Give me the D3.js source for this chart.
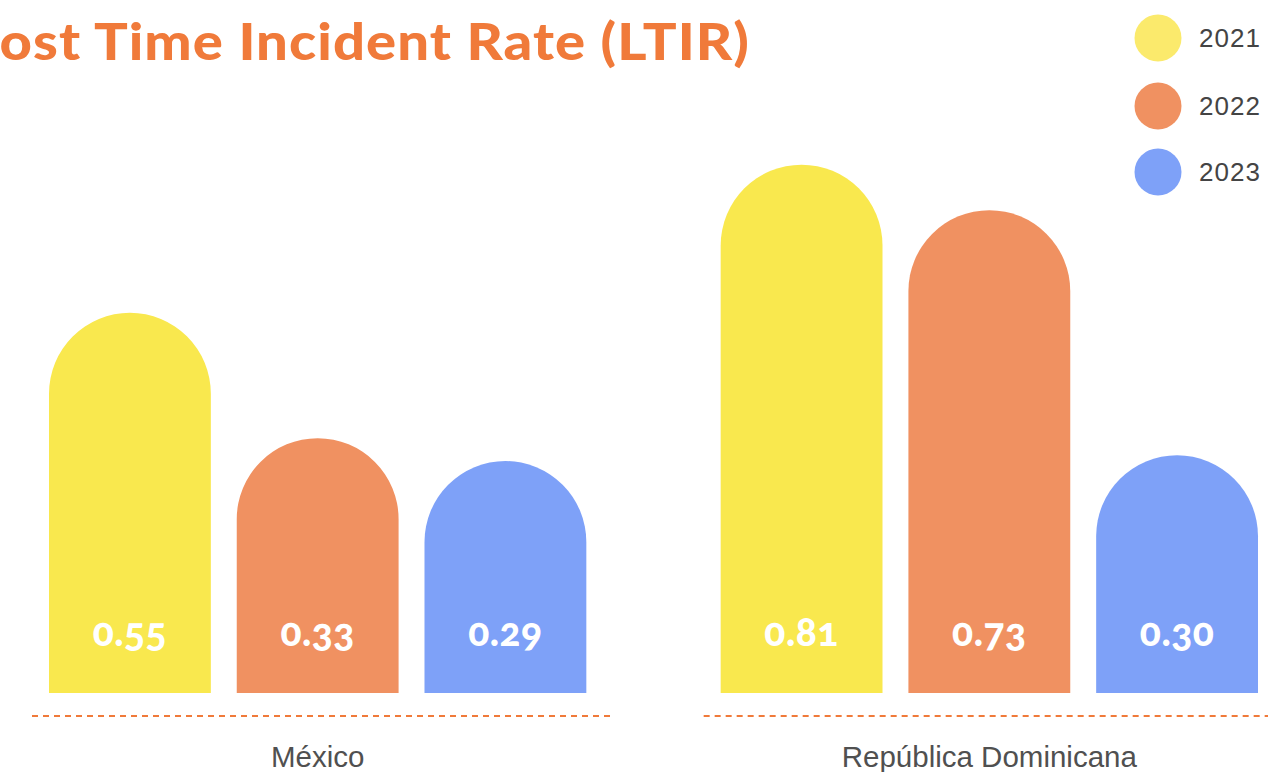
<!DOCTYPE html>
<html>
<head>
<meta charset="utf-8">
<script src="https://cdn.jsdelivr.net/npm/d3@7"></script>
<style>
  html, body { margin: 0; padding: 0; background: #ffffff; overflow: hidden; }
  svg { display: block; }
</style>
</head>
<body>
<svg id="chart" width="1268" height="772"></svg>
<script>
// Lost Time Incident Rate by country and year
const countries = ["México", "República Dominicana"];
const years = ["2021", "2022", "2023"];
const ltir2021 = [0.55, 0.81];
const ltir2022 = [0.33, 0.73];
const ltir2023 = [0.29, 0.30];
const seriesValues = [ltir2021, ltir2022, ltir2023];
const barColors = ["#F9E84E", "#F09161", "#7EA1F8"];
const legendColors = ["#FBEA6C", "#F09161", "#7EA1F8"];
const titleText = "Lost Time Incident Rate (LTIR)";

const W = 1268, H = 772;
const baseline = 693;
const svg = d3.select("#chart");

const x0 = d3.scaleBand().domain(countries).range([49, 1258]).paddingInner(0.2).paddingOuter(0);
const x1 = d3.scaleBand().domain(years).range([0, x0.bandwidth()]).paddingInner(0.138).paddingOuter(0);
const y = d3.scaleLinear().domain([-0.117, 0.85]).range([baseline, 141.8]);
const color = d3.scaleOrdinal().domain(years).range(barColors);

// flat rows for drawing
const rows = [];
countries.forEach((c, ci) => {
  years.forEach((yr, si) => rows.push({ country: c, year: yr, value: seriesValues[si][ci] }));
});

// bars with a semicircular top
function barPath(d) {
  const x = x0(d.country) + x1(d.year);
  const w = x1.bandwidth();
  const r = w / 2;
  const top = y(d.value);
  return `M${x},${baseline} L${x},${top + r} A${r},${r} 0 0 1 ${x + w},${top + r} L${x + w},${baseline} Z`;
}

svg.append("g").selectAll("path")
  .data(rows)
  .join("path")
  .attr("d", barPath)
  .attr("fill", d => color(d.year));

// value labels inside each bar
svg.append("g").selectAll("text")
  .data(rows)
  .join("text")
  .attr("x", d => x0(d.country) + x1(d.year) + x1.bandwidth() / 2)
  .attr("y", 646)
  .attr("text-anchor", "middle")
  .attr("fill", "#ffffff")
  .style("font-family", "Lato, sans-serif")
  .style("font-weight", 900)
  .style("font-size", "39px")
  .style("letter-spacing", "0.5px")
  .style("font-variant-numeric", "oldstyle-nums")
  .text(d => d.value.toFixed(2));

// dashed baseline under each country group
svg.append("g").selectAll("line")
  .data(countries)
  .join("line")
  .attr("x1", d => x0(d) - 17)
  .attr("x2", d => Math.min(W, x0(d) + x0.bandwidth() + 24))
  .attr("y1", 716)
  .attr("y2", 716)
  .attr("stroke", "#F07A3A")
  .attr("stroke-width", 2)
  .attr("stroke-dasharray", "6,5");

// country labels
svg.append("g").selectAll("text")
  .data(countries)
  .join("text")
  .attr("x", d => x0(d) + x0.bandwidth() / 2)
  .attr("y", 767)
  .attr("text-anchor", "middle")
  .attr("fill", "#505050")
  .style("font-family", "'Liberation Sans', Arial, sans-serif")
  .style("font-size", "29.5px")
  .text(d => d);

// title, right-aligned and widened so its start runs off the left edge
svg.append("text")
  .attr("transform", "translate(750,60) scale(1.08,1)")
  .attr("text-anchor", "end")
  .attr("fill", "#F07A3A")
  .style("font-family", "Lato, sans-serif")
  .style("font-weight", 900)
  .style("font-size", "52px")
  .style("letter-spacing", "1px")
  .text(titleText);

// legend
const legend = svg.append("g").selectAll("g")
  .data(years)
  .join("g")
  .attr("transform", (d, i) => `translate(1158, ${[38, 106, 172][i]})`);
legend.append("circle")
  .attr("r", 23.5)
  .attr("fill", (d, i) => legendColors[i]);
legend.append("text")
  .attr("x", 41)
  .attr("y", 9)
  .attr("fill", "#444444")
  .style("font-family", "'Liberation Sans', Arial, sans-serif")
  .style("font-size", "26px")
  .style("letter-spacing", "1px")
  .text(d => d);
</script>
</body>
</html>
